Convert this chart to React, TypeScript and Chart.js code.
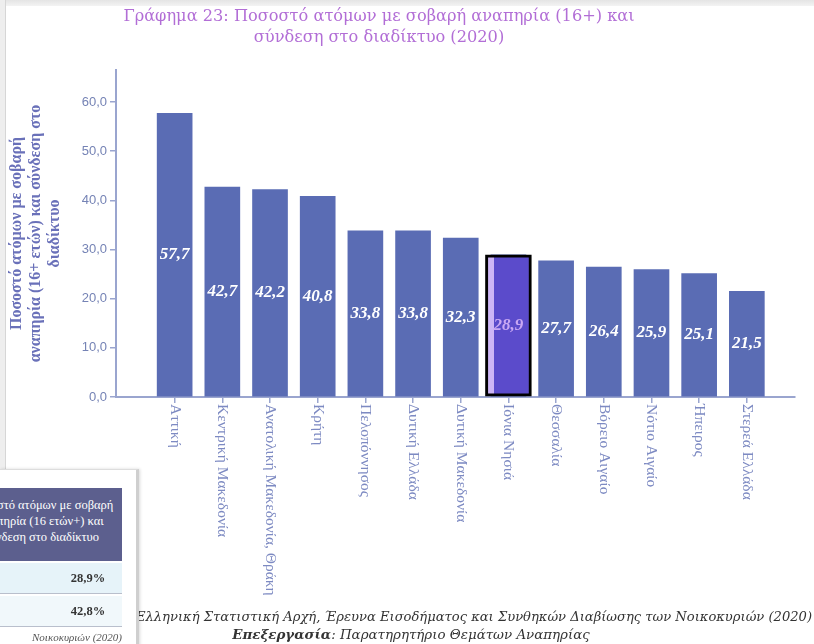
import React, { useEffect, useRef } from "react";
import { Chart, registerables } from "chart.js";

Chart.register(...registerables);

// ---------- data ----------
const categories = [
  "Αττική",
  "Κεντρική Μακεδονία",
  "Ανατολική Μακεδονία, Θράκη",
  "Κρήτη",
  "Πελοπόννησος",
  "Δυτική Ελλάδα",
  "Δυτική Μακεδονία",
  "Ιόνια Νησιά",
  "Θεσσαλία",
  "Βόρειο Αιγαίο",
  "Νότιο Αιγαίο",
  "Ήπειρος",
  "Στερεά Ελλάδα",
];
const values = [57.7, 42.7, 42.2, 40.8, 33.8, 33.8, 32.3, 28.9, 27.7, 26.4, 25.9, 25.1, 21.5];
const highlightIndex = 7;
const yTicks = [0, 10, 20, 30, 40, 50, 60];
const titleLines = [
  "Γράφημα 23: Ποσοστό ατόμων με σοβαρή αναπηρία (16+) και",
  "σύνδεση στο διαδίκτυο (2020)",
];
const yTitleLines = [
  "Ποσοστό ατόμων με σοβαρή",
  "αναπηρία (16+ ετών) και σύνδεση στο",
  "διαδίκτυο",
];
const tableHeaderLines = ["Ποσοστό ατόμων με σοβαρή", "αναπηρία (16 ετών+) και", "σύνδεση στο διαδίκτυο"];
const tableRows = ["28,9%", "42,8%"];
const tableNote = "Νοικοκυριών (2020)";
const sourceLine = "Ελληνική Στατιστική Αρχή, Έρευνα Εισοδήματος και Συνθηκών Διαβίωσης των Νοικοκυριών (2020)";
const processingLabel = "Επεξεργασία";
const processingText = ": Παρατηρητήριο Θεμάτων Αναπηρίας";

// ---------- styles ----------
const BAR = "#5a6cb4";
const HL_FILL = "#5b4bcb";
const HL_STRIP = "#cdb5f6";
const AXIS = "#9aa5cf";
const SERIF = '"Liberation Serif", serif';
const WIDE_SERIF = '"DejaVu Serif", serif';

const fmt = (v: number) => v.toFixed(1).replace(".", ",");

const labelsPlugin = {
  id: "customLabels",
  afterDatasetsDraw(chart: any) {
    const ctx = chart.ctx;
    const meta = chart.getDatasetMeta(0);
    ctx.save();
    ctx.font = `italic bold 17px ${SERIF}`;
    ctx.textAlign = "center";
    ctx.textBaseline = "middle";
    meta.data.forEach((el: any, i: number) => {
      const p = el.getProps(["x", "y", "base"], true);
      ctx.fillStyle = i === highlightIndex ? "#c9a8f3" : "#ffffff";
      ctx.fillText(fmt(values[i]), p.x, (p.y + p.base) / 2);
    });
    ctx.restore();
  },
  afterDraw(chart: any) {
    const ctx = chart.ctx;
    const xs = chart.scales.x;
    ctx.save();
    ctx.font = `15.5px ${SERIF}`;
    ctx.fillStyle = "#7d8ac2";
    ctx.textAlign = "left";
    ctx.textBaseline = "middle";
    categories.forEach((c, i) => {
      const px = xs.getPixelForValue(i);
      ctx.save();
      ctx.translate(px, xs.top + 7);
      ctx.rotate(Math.PI / 2);
      ctx.fillText(c, 0, 0);
      ctx.restore();
    });
    ctx.restore();
  },
};

export default function App() {
  const canvasRef = useRef<HTMLCanvasElement>(null);

  useEffect(() => {
    const canvas = canvasRef.current!;
    const chart = new Chart(canvas, {
      type: "bar",
      data: {
        datasets: [
          {
            data: values.map((v, i) => ({ x: i, y: v })),
            backgroundColor: BAR,
            borderWidth: 0,
            barThickness: 35,
            grouped: false,
            order: 1,
          } as any,
          {
            data: [{ x: highlightIndex, y: values[highlightIndex] }],
            backgroundColor: (c: any) => {
              const ch = c.chart;
              const xs = ch.scales && ch.scales.x;
              if (!xs || !ch.chartArea) return HL_FILL;
              const cx = xs.getPixelForValue(highlightIndex);
              const g = ch.ctx.createLinearGradient(cx - 23, 0, cx + 23, 0);
              g.addColorStop(0, HL_STRIP);
              g.addColorStop(0.18, HL_STRIP);
              g.addColorStop(0.18, HL_FILL);
              g.addColorStop(1, HL_FILL);
              return g;
            },
            borderColor: "#000000",
            borderWidth: 3,
            borderSkipped: false,
            barThickness: 46,
            grouped: false,
            order: 0,
          } as any,
        ],
      },
      options: {
        responsive: false,
        animation: false,
        events: [],
        layout: { padding: { left: 0, right: 19, top: 0, bottom: 0 } },
        plugins: {
          legend: { display: false },
          tooltip: { enabled: false },
          title: {
            display: true,
            text: titleLines,
            color: "#b26ed6",
            font: { family: WIDE_SERIF, size: 16.2, weight: "normal", lineHeight: 21 / 16.2 },
            padding: { top: 6.5, bottom: 21.5 },
          },
        },
        scales: {
          x: {
            type: "linear",
            offset: false,
            min: -1.23,
            max: 13.01,
            afterBuildTicks: (s: any) => {
              s.ticks = categories.map((_, i) => ({ value: i }));
            },
            afterFit: (s: any) => {
              s.height = 247;
            },
            ticks: { display: false },
            grid: {
              display: true,
              offset: false,
              drawOnChartArea: false,
              drawTicks: true,
              tickLength: 6,
              color: AXIS,
              lineWidth: 1.5,
            },
            border: { display: true, color: AXIS, width: 2 },
          },
          y: {
            min: 0,
            max: 66.5,
            afterBuildTicks: (s: any) => {
              s.ticks = yTicks.map((v) => ({ value: v }));
            },
            afterFit: (s: any) => {
              s.width = 153;
            },
            ticks: {
              padding: 3,
              color: "#7583b5",
              font: { family: '"Liberation Sans", Arial, sans-serif', size: 13 },
              callback: (v: any) => fmt(Number(v)),
            },
            grid: {
              display: true,
              drawOnChartArea: false,
              drawTicks: true,
              tickLength: 6,
              color: AXIS,
              lineWidth: 1.5,
            },
            border: { display: true, color: AXIS, width: 2 },
            title: {
              display: true,
              text: yTitleLines,
              color: "#6a71b9",
              font: { family: SERIF, size: 16, weight: "bold", lineHeight: 19 / 16 },
              padding: { top: 44.5, bottom: 0 },
            },
          },
        },
      },
      plugins: [labelsPlugin],
    } as any);
    return () => chart.destroy();
  }, []);

  return (
    <div
      style={{
        position: "absolute",
        left: 0,
        top: 0,
        width: 814,
        height: 644,
        overflow: "hidden",
        background: "#ffffff",
      }}
    >
      <div style={{ position: "absolute", left: 0, top: 0, width: 814, height: 6, background: "linear-gradient(#e4e4e4, #f3f3f3)" }} />
      <div style={{ position: "absolute", left: 0, top: 0, width: 5, height: 470, background: "#eeeeee", borderRight: "1px solid #d6d6d6" }} />
      <canvas ref={canvasRef} width={851} height={644} style={{ position: "absolute", left: -37, top: 0 }} />

      {/* source text */}
      <div
        style={{
          position: "absolute",
          right: 2,
          top: 608,
          whiteSpace: "nowrap",
          fontFamily: WIDE_SERIF,
          fontStyle: "italic",
          fontSize: 13.1,
          color: "#333333",
          lineHeight: "17px",
        }}
      >
        {sourceLine}
      </div>
      <div
        style={{
          position: "absolute",
          left: 0,
          width: 822,
          top: 626,
          textAlign: "center",
          whiteSpace: "nowrap",
          fontFamily: WIDE_SERIF,
          fontStyle: "italic",
          fontSize: 13.4,
          color: "#333333",
          lineHeight: "17px",
        }}
      >
        <b>{processingLabel}</b>
        {processingText}
      </div>

      {/* table panel */}
      <div
        style={{
          position: "absolute",
          left: 0,
          top: 469,
          width: 136,
          height: 180,
          background: "#ffffff",
          borderTop: "1px solid #dddddd",
          borderRight: "3px solid #cfcfcf",
          boxShadow: "1px 0 3px rgba(0,0,0,0.15)",
          overflow: "hidden",
        }}
      >
        <div
          style={{
            position: "absolute",
            left: -40,
            top: 18,
            width: 162,
            height: 73,
            background: "#5c5f8e",
            color: "#ffffff",
            fontFamily: SERIF,
            fontSize: 12.5,
            lineHeight: "16px",
            textAlign: "center",
            boxSizing: "border-box",
            paddingTop: 9,
          }}
        >
          {tableHeaderLines.map((l, i) => (
            <div key={i}>{l}</div>
          ))}
        </div>
        {tableRows.map((r, i) => (
          <div
            key={i}
            style={{
              position: "absolute",
              left: -40,
              top: 93 + i * 33,
              width: 162,
              height: 31,
              background: i === 0 ? "#e6f3f9" : "#f1f8fb",
              borderBottom: "1px solid #b9bfcc",
              fontFamily: SERIF,
              fontWeight: "bold",
              fontSize: 12.5,
              lineHeight: "31px",
              color: "#333333",
              textAlign: "center",
              paddingLeft: 94,
              boxSizing: "border-box",
            }}
          >
            {r}
          </div>
        ))}
        <div
          style={{
            position: "absolute",
            right: 14,
            top: 161,
            whiteSpace: "nowrap",
            fontFamily: SERIF,
            fontStyle: "italic",
            fontSize: 11,
            color: "#555555",
          }}
        >
          {tableNote}
        </div>
      </div>
    </div>
  );
}
